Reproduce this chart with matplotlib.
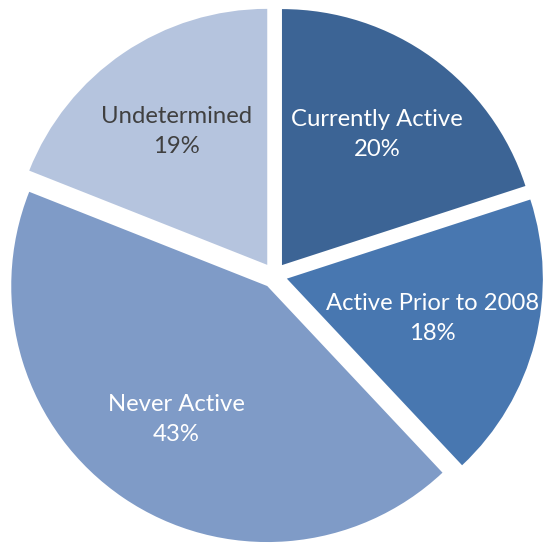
import matplotlib.pyplot as plt

# Datos del gráfico
categorias = ['Currently Active', 'Active Prior to 2008', 'Never Active', 'Undetermined']
porcentajes = [20, 18, 43, 19]
colores = ['#3C6495', '#4877B0', '#7F9BC7', '#B5C4DE']
colores_texto = ['white', 'white', 'white', '#404040']

plt.rcParams['font.family'] = ['Lato', 'DejaVu Sans']

fig = plt.figure(figsize=(5.43, 5.44), dpi=100)
ax = fig.add_axes([0, 0, 1, 1])


def etiqueta(pct, _it=iter(categorias)):
    return '%s\n%d%%' % (next(_it), round(pct))


wedges, textos, autotextos = ax.pie(porcentajes, colors=colores, startangle=90,
                                    counterclock=False, explode=[0.05] * 4,
                                    autopct=etiqueta, pctdistance=0.63,
                                    wedgeprops=dict(linewidth=0))

for t, c in zip(autotextos, colores_texto):
    t.set_color(c)
    t.set_fontsize(17.2)
    t.set_linespacing(1.55)

# La etiqueta de "Active Prior to 2008" se acerca al borde: moverla un poco
x, y = autotextos[1].get_position()
autotextos[1].set_position((x - 0.04, y))

# Limites para colocar el pastel como en la imagen original
ax.set_xlim(-1.072, 1.049)
ax.set_ylim(-1.049, 1.076)
ax.set_aspect('equal')
ax.axis('off')

plt.savefig('out.png', dpi=100)
